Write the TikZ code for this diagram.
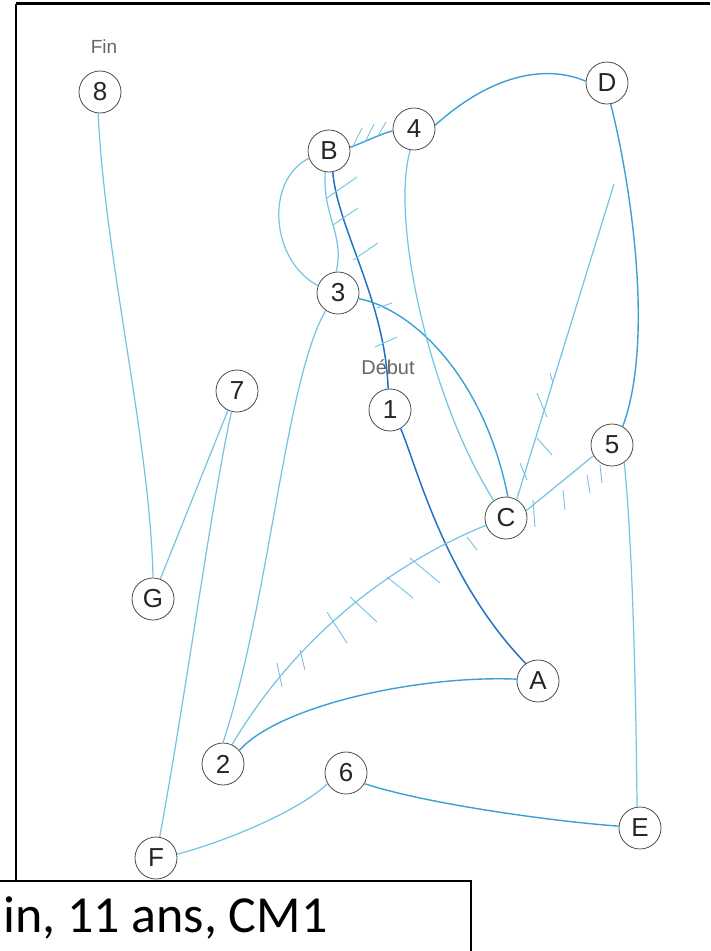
\documentclass[tikz,border=0pt]{standalone}
\usepackage{fontspec}
\setmainfont{Liberation Sans}
\newfontfamily\capfont{Carlito}
\definecolor{lightblue}{RGB}{115,195,228}
\definecolor{midblue}{RGB}{60,160,215}
\definecolor{darkblue}{RGB}{35,115,195}
\begin{document}
\begin{tikzpicture}[x=1pt,y=-1pt,
  station/.style={circle,draw=black!70,line width=0.8pt,minimum size=42pt,inner sep=0pt,
    font=\fontsize{26}{30}\selectfont,text=black!85},
  lbl/.style={font=\fontsize{19}{22}\selectfont,text=black!60},
  lightln/.style={draw=lightblue,line width=1.2pt},
  midln/.style={draw=midblue,line width=1.4pt},
  darkln/.style={draw=darkblue,line width=1.5pt},
  hatchmark/.style={draw=lightblue,line width=0.9pt}]
\useasboundingbox (0,0) rectangle (710,951);
\fill[white] (0,0) rectangle (710,951);
% frame
\draw[line width=3pt] (16,3.5) -- (710,3.5);
\draw[line width=2.5pt] (16,3.5) -- (16,881);
% nodes
\node[station] (n8) at (100,92) {8};
\node[lbl] (fin) at (104,47) {Fin};
\node[station] (nB) at (329,151) {B};
\node[station] (n4) at (414,129) {4};
\node[station] (nD) at (607,83) {D};
\node[station] (n3) at (338,293) {3};
\node[station] (n7) at (237,391) {7};
\node[lbl,font=\fontsize{20}{24}\selectfont] (debut) at (388,367) {Début};
\node[station] (n1) at (390,410) {1};
\node[station] (n5) at (612,445) {5};
\node[station] (nC) at (506,518) {C};
\node[station] (nG) at (153,599) {G};
\node[station] (nA) at (538,681) {A};
\node[station] (n2) at (223,764) {2};
\node[station] (n6) at (346,773) {6};
\node[station] (nE) at (640,828) {E};
\node[station] (nF) at (156,858) {F};
\coordinate (dctop) at (614,184);
% connectors
\draw[lightln] (n8.-95) .. controls (105,260) and (150,440) .. (nG.north);
\draw[lightln] (n7.-115) -- (nG.70);
\draw[lightln] (n7.-105) .. controls (212,500) and (185,700) .. (nF.80);
\draw[lightln] (nF.10) .. controls (230,840) and (300,810) .. (n6.-150);
\draw[midln] (n6.-30) .. controls (430,805) and (560,822) .. (nE.175);
\draw[lightln] (nE.98) .. controls (636,700) and (633,550) .. (n5.-55);
\draw[midln] (nD.-80) .. controls (630,180) and (655,340) .. (n5.60);
\draw[midln] (nD.175) .. controls (540,62) and (485,80) .. (n4.10);
\draw[midln] (nB.10) .. controls (365,142) and (380,134) .. (n4.185);
\draw[darkln] (nB.-80) .. controls (338,230) and (385,300) .. (n1.95);
\draw[darkln] (n1.-60) .. controls (418,470) and (445,580) .. (nA.125);
\draw[midln] (n2.40) .. controls (280,705) and (420,675) .. (nA.175);
\draw[lightln] (n3.-125) .. controls (285,380) and (270,600) .. (n2.north);
\draw[midln] (n3.-15) .. controls (415,310) and (485,380) .. (nC.85);
\draw[lightln] (n4.-100) .. controls (390,220) and (430,400) .. (nC.125);
\draw[lightln] (nC.60) -- (dctop);
\draw[lightln] (n5.-150) -- (nC.20);
\draw[lightln] (nC.200) .. controls (400,560) and (300,630) .. (n2.65);
\draw[lightln] (nB.200) .. controls (265,180) and (270,260) .. (n3.160);
\draw[lightln] (nB.-100) .. controls (322,215) and (345,235) .. (n3.95);
% hatch marks
\draw[hatchmark] (352,148) -- (362,128);
\draw[hatchmark] (365,142) -- (374,124);
\draw[hatchmark] (378,136) -- (386,122);
\draw[hatchmark] (327,198) -- (357,177);
\draw[hatchmark] (333,225) -- (358,208);
\draw[hatchmark] (353,260) -- (378,243);
\draw[hatchmark] (377,308) -- (392,303);
\draw[hatchmark] (375,347) -- (397,337);
\draw[hatchmark] (550,373) -- (553,383);
\draw[hatchmark] (537,393) -- (547,417);
\draw[hatchmark] (537,438) -- (552,455);
\draw[hatchmark] (520,463) -- (527,480);
\draw[hatchmark] (600,465) -- (602,483);
\draw[hatchmark] (587,475) -- (590,493);
\draw[hatchmark] (563,490) -- (565,510);
\draw[hatchmark] (533,500) -- (535,527);
\draw[hatchmark] (467,537) -- (477,550);
\draw[hatchmark] (410,558) -- (440,583);
\draw[hatchmark] (387,577) -- (413,598);
\draw[hatchmark] (350,597) -- (377,622);
\draw[hatchmark] (327,612) -- (347,643);
\draw[hatchmark] (300,650) -- (305,670);
\draw[hatchmark] (277,663) -- (282,687);
% caption box
\fill[white] (0,881) rectangle (471,951);
\draw[line width=1.5pt] (0,881) -- (471,881) -- (471,951);
\node[anchor=base west,inner sep=0pt,font=\capfont\fontsize{52}{60}\selectfont] (caption) at (3,932) {in, 11 ans, CM1};
\end{tikzpicture}
\end{document}
